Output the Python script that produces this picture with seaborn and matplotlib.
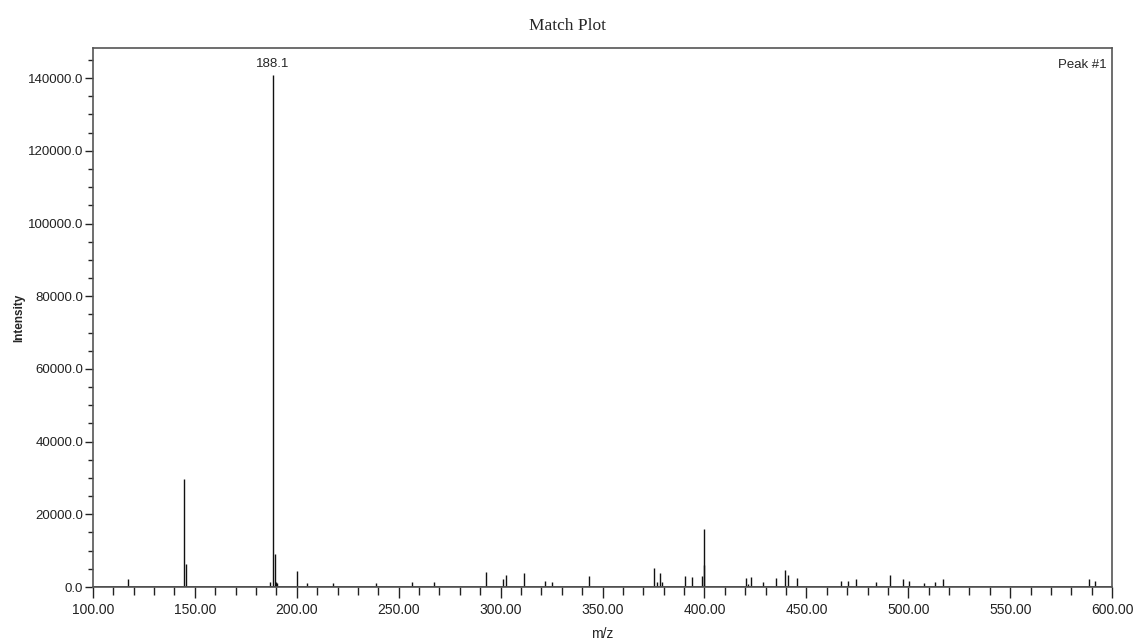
import matplotlib
matplotlib.use("Agg")
import matplotlib.pyplot as plt
import seaborn as sns
import numpy as np
from matplotlib.ticker import MultipleLocator, FormatStrFormatter

# m/z values and intensities
mz = [117.3, 144.5, 145.5, 187.0, 188.1, 189.5, 189.9, 190.3, 200.2, 205.2,
      217.9, 239.0, 256.4, 267.5, 293.0, 301.0, 302.8, 311.6, 321.6, 325.1,
      343.5, 375.1, 376.9, 378.2, 379.2, 390.3, 393.9, 398.7, 399.6, 399.9,
      420.5, 421.5, 422.7, 428.6, 435.0, 439.4, 441.2, 445.3,
      467.0, 470.3, 474.1, 484.0, 491.1, 497.3, 500.4, 507.6, 513.3, 517.1,
      588.4, 591.8]
intensity = [2100, 29800, 6200, 1500, 141000, 9200, 1500, 1200, 4300, 1200,
             1200, 1100, 1400, 1400, 4200, 2300, 3300, 3900, 1650, 1400,
             3100, 5300, 1500, 3800, 1500, 3100, 2750, 3100, 16000, 6000,
             2400, 730, 2750, 1500, 2400, 4700, 3400, 2400,
             1650, 1650, 2300, 1400, 3300, 2300, 1650, 1100, 1400, 2300,
             2300, 1650]
label_peak_mz = 188.1
label_peak_text = "188.1"
title = "Match Plot"
corner_text = "Peak #1"

sns.set_style("ticks")
plt.rcParams["font.family"] = ["Liberation Sans", "DejaVu Sans"]

fig = plt.figure(figsize=(11.35, 6.44), dpi=100)
ax = fig.add_axes([0.0819, 0.0885, 0.898, 0.837])

ax.vlines(mz, 0, intensity, colors="#111111", linewidth=1.0)
ax.axhline(0, color="#111111", linewidth=1.2)

ax.set_xlim(100, 600)
ax.set_ylim(0, 148300)

ax.xaxis.set_major_locator(MultipleLocator(50))
ax.xaxis.set_minor_locator(MultipleLocator(10))
ax.yaxis.set_major_locator(MultipleLocator(20000))
ax.yaxis.set_minor_locator(MultipleLocator(5000))
ax.xaxis.set_major_formatter(FormatStrFormatter("%.2f"))
ax.yaxis.set_major_formatter(FormatStrFormatter("%.1f"))

ax.tick_params(axis="x", which="major", labelsize=10, colors="#222222",
               length=8, width=1, pad=3.5)
ax.tick_params(axis="x", which="minor", length=5.5, width=1, colors="#222222")
ax.tick_params(axis="y", which="major", labelsize=9.5, colors="#222222",
               length=6, width=1, pad=1)
ax.tick_params(axis="y", which="minor", length=3.5, width=1, colors="#222222")

for s in ax.spines.values():
    s.set_color("#555555")
    s.set_linewidth(1.2)

ax.set_xlabel("m/z", fontsize=10, labelpad=7)
ax.set_ylabel("Intensity", fontsize=8.5, fontweight="bold", labelpad=2)

fig.text(0.5, 0.96, title, ha="center", va="center", fontsize=12.5,
         family=["Liberation Serif", "DejaVu Serif"])

pk = intensity[mz.index(label_peak_mz)]
ax.annotate(label_peak_text, (label_peak_mz, pk), xytext=(0, 3),
            textcoords="offset points", ha="center", va="bottom", fontsize=9.5)
ax.text(0.995, 0.98, corner_text, transform=ax.transAxes, ha="right",
        va="top", fontsize=9.5)

fig.savefig("out.png", dpi=100)
